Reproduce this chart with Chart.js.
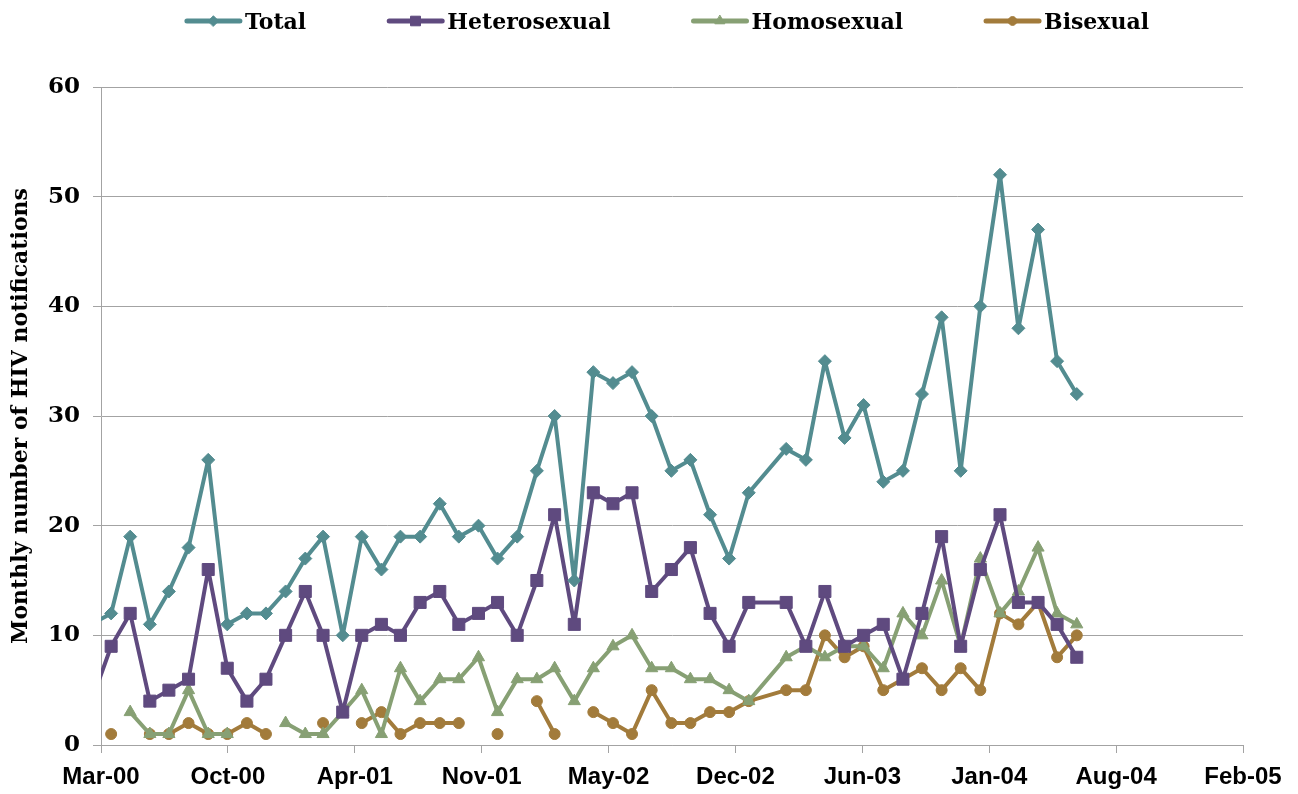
<!DOCTYPE html>
<html>
<head>
<meta charset="utf-8">
<script src="https://cdn.jsdelivr.net/npm/chart.js@4/dist/chart.umd.min.js"></script>
<style>
  html, body { margin: 0; padding: 0; background: #fff; }
  #wrap { width: 1298px; height: 794px; }
</style>
</head>
<body>
<div id="wrap"><canvas id="chart" width="1298" height="794"></canvas></div>
<script>
// monthly notifications, one entry per month (Jan-03 has no row in the source)
const months = [
  '2000-02', '2000-03', '2000-04', '2000-05', '2000-06', '2000-07', '2000-08', '2000-09', '2000-10', '2000-11', '2000-12',
  '2001-01', '2001-02', '2001-03', '2001-04', '2001-05', '2001-06', '2001-07', '2001-08', '2001-09', '2001-10', '2001-11', '2001-12',
  '2002-01', '2002-02', '2002-03', '2002-04', '2002-05', '2002-06', '2002-07', '2002-08', '2002-09', '2002-10', '2002-11', '2002-12',
  '2003-02', '2003-03', '2003-04', '2003-05', '2003-06', '2003-07', '2003-08', '2003-09', '2003-10', '2003-11', '2003-12',
  '2004-01', '2004-02', '2004-03', '2004-04', '2004-05',
];

const total = [
  11, 12, 19, 11, 14, 18, 26, 11, 12, 12, 14,
  17, 19, 10, 19, 16, 19, 19, 22, 19, 20, 17, 19,
  25, 30, 15, 34, 33, 34, 30, 25, 26, 21, 17, 23,
  27, 26, 35, 28, 31, 24, 25, 32, 39, 25, 40,
  52, 38, 47, 35, 32,
];

const heterosexual = [
  4, 9, 12, 4, 5, 6, 16, 7, 4, 6, 10,
  14, 10, 3, 10, 11, 10, 13, 14, 11, 12, 13, 10,
  15, 21, 11, 23, 22, 23, 14, 16, 18, 12, 9, 13,
  13, 9, 14, 9, 10, 11, 6, 12, 19, 9, 16,
  21, 13, 13, 11, 8,
];

const homosexual = [
  null, null, 3, 1, 1, 5, 1, 1, null, null, 2,
  1, 1, 3, 5, 1, 7, 4, 6, 6, 8, 3, 6,
  6, 7, 4, 7, 9, 10, 7, 7, 6, 6, 5, 4,
  8, 9, 8, 9, 9, 7, 12, 10, 15, 9, 17,
  12, 14, 18, 12, 11,
];

const bisexual = [
  null, 1, null, 1, 1, 2, 1, 1, 2, 1, null,
  null, 2, null, 2, 3, 1, 2, 2, 2, null, 1, null,
  4, 1, null, 3, 2, 1, 5, 2, 2, 3, 3, 4,
  5, 5, 10, 8, 9, 5, 6, 7, 5, 7, 5,
  12, 11, 13, 8, 10,
];

const xTickLabels = ['Mar-00', 'Oct-00', 'Apr-01', 'Nov-01', 'May-02', 'Dec-02', 'Jun-03', 'Jan-04', 'Aug-04', 'Feb-05'];
const yTickMax = 60;

// spreadsheet date axis: day serials, first tick 15 Mar 2000, one tick every 200 days
const X_MIN = 36600;
const X_STEP = 200;
const X_MAX = X_MIN + X_STEP * (xTickLabels.length - 1);

const GRID = '#a3a3a3';
const SERIF = '"DejaVu Serif"';

/**
 * @param {string} ym  'YYYY-MM'
 * @returns {number} day serial of the last day of that month
 */
function monthEndSerial(ym) {
  const [y, m] = ym.split('-').map(Number);
  return Date.UTC(y, m, 0) / 86400000 + 25569;
}

function toPoints(values) {
  return months.map((m, i) => ({ x: monthEndSerial(m), y: values[i] }));
}

function series(label, values, color, pointStyle, radius) {
  return {
    label,
    data: toPoints(values),
    borderColor: color,
    backgroundColor: color,
    pointBackgroundColor: color,
    pointBorderColor: color,
    borderWidth: 4,
    borderJoinStyle: 'round',
    borderCapStyle: 'round',
    pointStyle,
    pointRadius: radius,
    pointHoverRadius: radius,
    pointBorderWidth: 1,
    tension: 0,
    spanGaps: false,
    clip: { left: 0, top: false, right: false, bottom: false },
  };
}

// legend drawn as line sample + marker, like the spreadsheet one
const lineLegend = {
  id: 'lineLegend',
  afterDraw(chart) {
    const ctx = chart.ctx;
    const sampleW = 57;
    const gap = 3;
    const spacing = 81;
    const cy = 21;

    ctx.save();
    ctx.font = `bold 22px ${SERIF}`;
    const items = chart.data.datasets.map((ds) => ({ ds, w: ctx.measureText(ds.label).width }));
    const fullW = items.reduce((s, it) => s + sampleW + gap + it.w, 0) + spacing * (items.length - 1);
    let x = 667 - fullW / 2;

    items.forEach(({ ds, w }) => {
      ctx.strokeStyle = ds.borderColor;
      ctx.lineWidth = 5;
      ctx.lineCap = 'round';
      ctx.beginPath();
      ctx.moveTo(x + 2, cy);
      ctx.lineTo(x + sampleW - 2, cy);
      ctx.stroke();

      ctx.fillStyle = ds.borderColor;
      ctx.lineWidth = 1;
      Chart.helpers.drawPoint(ctx, {
        pointStyle: ds.pointStyle,
        radius: ds.pointRadius * 0.8,
        rotation: 0,
        borderWidth: 1,
      }, x + sampleW / 2, cy);

      ctx.fillStyle = '#000';
      ctx.textBaseline = 'middle';
      ctx.textAlign = 'left';
      ctx.fillText(ds.label, x + sampleW + gap, cy + 2);
      x += sampleW + gap + w + spacing;
    });
    ctx.restore();
  },
};

new Chart(document.getElementById('chart'), {
  type: 'line',
  data: {
    datasets: [
      series('Total', total, '#538c90', 'rectRot', 6.5),
      series('Heterosexual', heterosexual, '#5f4a7f', 'rect', 8.5),
      series('Homosexual', homosexual, '#87a074', 'triangle', 7),
      series('Bisexual', bisexual, '#a27b3b', 'circle', 5.5),
    ],
  },
  options: {
    responsive: false,
    animation: false,
    layout: { padding: { top: 87, right: 55, bottom: 0, left: 0 } },
    plugins: {
      legend: { display: false },
      tooltip: { enabled: false },
    },
    scales: {
      x: {
        type: 'linear',
        min: X_MIN,
        max: X_MAX,
        afterFit: (scale) => { scale.height = 49; },
        afterBuildTicks: (scale) => {
          scale.ticks = xTickLabels.map((_, i) => ({ value: X_MIN + X_STEP * i }));
        },
        grid: {
          drawOnChartArea: false,
          drawTicks: true,
          tickLength: 8,
          color: GRID,
        },
        border: { color: GRID, width: 1 },
        ticks: {
          autoSkip: false,
          maxRotation: 0,
          padding: 10,
          color: '#000',
          font: { family: '"Liberation Sans"', size: 24, weight: 'bold' },
          callback: (val, i) => xTickLabels[i],
        },
      },
      y: {
        min: 0,
        max: yTickMax,
        afterFit: (scale) => { scale.width = 101; },
        grid: {
          color: GRID,
          drawTicks: true,
          tickLength: 8,
        },
        border: { color: GRID, width: 1 },
        ticks: {
          stepSize: 10,
          padding: 13,
          color: '#000',
          font: { family: SERIF, size: 23, weight: 'bold' },
        },
        title: {
          display: true,
          text: 'Monthly number of HIV notifications',
          color: '#000',
          padding: { top: 8, bottom: 0 },
          font: { family: SERIF, size: 22, weight: 'bold' },
        },
      },
    },
  },
  plugins: [lineLegend],
});
</script>
</body>
</html>
